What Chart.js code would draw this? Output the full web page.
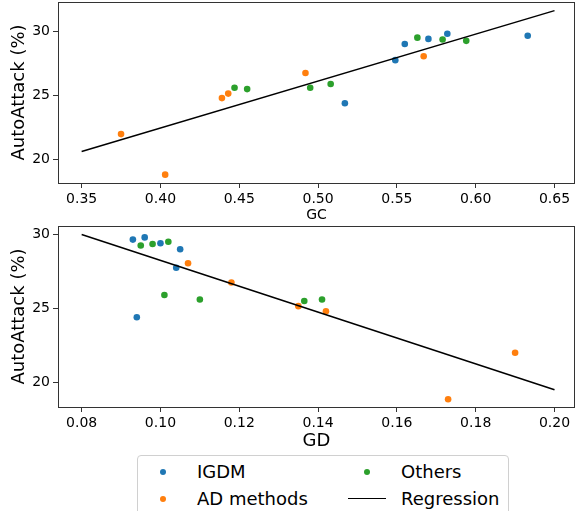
<!DOCTYPE html>
<html>
<head>
<meta charset="utf-8">
<script src="https://cdn.jsdelivr.net/npm/chart.js"></script>
<style>
  body { margin: 0; background: #fff; font-family: "DejaVu Sans", sans-serif; }
  #wrap { position: relative; width: 575px; height: 511px; overflow: hidden; }
  canvas { position: absolute; left: 0; }
  #gcChart { top: -2px; }
  #gdChart { top: 222px; }
  #legend { position: absolute; left: 137px; top: 455px; width: 370px; height: 70px;
            border: 1px solid #d0d0d0; border-radius: 4px; }
  #legend .dot { position: absolute; width: 6px; height: 6px; border-radius: 50%; }
  #legend .line { position: absolute; width: 38px; height: 0; border-top: 1.5px solid #000; }
  #legend .txt { position: absolute; font-size: 18px; line-height: 20px; color: #000; white-space: nowrap; }
</style>
</head>
<body>
<div id="wrap">
  <canvas id="gcChart" width="579" height="226"></canvas>
  <canvas id="gdChart" width="579" height="232"></canvas>
  <div id="legend"></div>
</div>
<script>
// AutoAttack robustness (%) per model, with its GC and GD score
const igdmAA = [24.4, 27.75, 29.0, 29.4, 29.8, 29.65];
const igdmGC = [0.517, 0.549, 0.555, 0.570, 0.582, 0.633];
const igdmGD = [0.094, 0.104, 0.105, 0.100, 0.096, 0.093];

const adAA = [22.0, 18.85, 24.8, 25.15, 26.75, 28.05];
const adGC = [0.375, 0.403, 0.439, 0.443, 0.492, 0.567];
const adGD = [0.190, 0.173, 0.142, 0.135, 0.118, 0.107];

const othersAA = [25.6, 25.5, 25.6, 25.9, 29.5, 29.35, 29.25];
const othersGC = [0.447, 0.455, 0.495, 0.508, 0.563, 0.579, 0.594];
const othersGD = [0.141, 0.1365, 0.110, 0.101, 0.102, 0.098, 0.095];

// regression line end points
const regGC = [0.35, 0.65];
const regGCAA = [20.65, 31.6];
const regGD = [0.08, 0.20];
const regGDAA = [30.0, 19.5];

const gcTicks = [0.35, 0.40, 0.45, 0.50, 0.55, 0.60, 0.65];
const gdTicks = [0.08, 0.10, 0.12, 0.14, 0.16, 0.18, 0.20];
const aaTicks = [20, 25, 30];

const blue = '#1f77b4', orange = '#ff7f0e', green = '#2ca02c';

Chart.defaults.font.family = 'DejaVu Sans';
Chart.defaults.color = '#000';

const pts = (xs, ys) => xs.map((x, i) => ({ x: x, y: ys[i] }));

const frame = {
  id: 'frame',
  afterDraw(chart) {
    const a = chart.chartArea, c = chart.ctx;
    c.save();
    c.strokeStyle = '#333';
    c.lineWidth = 1;
    c.strokeRect(Math.round(a.left) + 0.5, Math.round(a.top) + 0.5,
                 Math.round(a.right - a.left) - 1, Math.round(a.bottom - a.top));
    c.restore();
  }
};

function dot(label, color, xs, ys) {
  return { label, data: pts(xs, ys), backgroundColor: color, borderWidth: 0, pointRadius: 3.3 };
}

function regLine(xs, ys) {
  return { type: 'line', label: 'Regression', data: pts(xs, ys), borderColor: '#000',
           borderWidth: 1.5, pointRadius: 0, showLine: true, fill: false };
}

function makeChart(id, datasets, xr, xTicks, yr, xTitle, xTitleSize, xAxisH, pad) {
  return new Chart(document.getElementById(id), {
    type: 'scatter',
    data: { datasets },
    options: {
      responsive: false,
      animation: false,
      layout: { padding: pad },
      plugins: { legend: { display: false }, tooltip: { enabled: false } },
      scales: {
        x: {
          type: 'linear', min: xr[0], max: xr[1],
          afterBuildTicks: ax => { ax.ticks = xTicks.map(v => ({ value: v })); },
          afterFit: ax => { ax.height = xAxisH; ax.paddingLeft = 0; ax.paddingRight = 0; },
          ticks: { font: { size: 14 }, padding: 3, maxRotation: 0, autoSkip: false,
                   callback: v => v.toFixed(2) },
          grid: { drawOnChartArea: false, color: '#333', tickLength: 5 },
          border: { display: false },
          title: { display: true, text: xTitle, font: { size: xTitleSize, lineHeight: 1 },
                   padding: { top: 0, bottom: 0 } }
        },
        y: {
          min: yr[0], max: yr[1],
          afterBuildTicks: ax => { ax.ticks = aaTicks.map(v => ({ value: v })); },
          afterFit: ax => { ax.width = 58; ax.paddingTop = 0; ax.paddingBottom = 0; },
          ticks: { font: { size: 14 }, padding: 3, autoSkip: false },
          grid: { drawOnChartArea: false, color: '#333', tickLength: 5 },
          border: { display: false },
          title: { display: true, text: 'AutoAttack (%)', font: { size: 18, lineHeight: 1 },
                   padding: { top: 10, bottom: 0 } }
        }
      }
    },
    plugins: [frame]
  });
}

makeChart('gcChart', [
  regLine(regGC, regGCAA),
  dot('IGDM', blue, igdmGC, igdmAA),
  dot('AD methods', orange, adGC, adAA),
  dot('Others', green, othersGC, othersAA)
], [0.335, 0.663], gcTicks, [18.2, 32.27], 'GC', 14, 39, { top: 3, right: 1, bottom: 2, left: 0 });

makeChart('gdChart', [
  regLine(regGD, regGDAA),
  dot('IGDM', blue, igdmGD, igdmAA),
  dot('AD methods', orange, adGD, adAA),
  dot('Others', green, othersGD, othersAA)
], [0.074, 0.2052], gdTicks, [18.33, 30.57], 'GD', 18, 43, { top: 3, right: 1, bottom: 4, left: 0 });

// legend
const legendItems = [
  { label: 'IGDM', color: blue, kind: 'dot', col: 0, row: 0 },
  { label: 'AD methods', color: orange, kind: 'dot', col: 0, row: 1 },
  { label: 'Others', color: green, kind: 'dot', col: 1, row: 0 },
  { label: 'Regression', color: '#000', kind: 'line', col: 1, row: 1 }
];
const legend = document.getElementById('legend');
legendItems.forEach(it => {
  const cy = it.row === 0 ? 16 : 43;
  const base = it.col === 0 ? 0 : 204;
  const mark = document.createElement('div');
  if (it.kind === 'dot') {
    mark.className = 'dot';
    mark.style.background = it.color;
    mark.style.left = (base + 22) + 'px';
    mark.style.top = (cy - 3) + 'px';
  } else {
    mark.className = 'line';
    mark.style.left = (base + 6) + 'px';
    mark.style.top = (cy - 1) + 'px';
  }
  legend.appendChild(mark);
  const t = document.createElement('div');
  t.className = 'txt';
  t.textContent = it.label;
  t.style.left = (base + 59) + 'px';
  t.style.top = (cy - 10) + 'px';
  legend.appendChild(t);
});
</script>
</body>
</html>
